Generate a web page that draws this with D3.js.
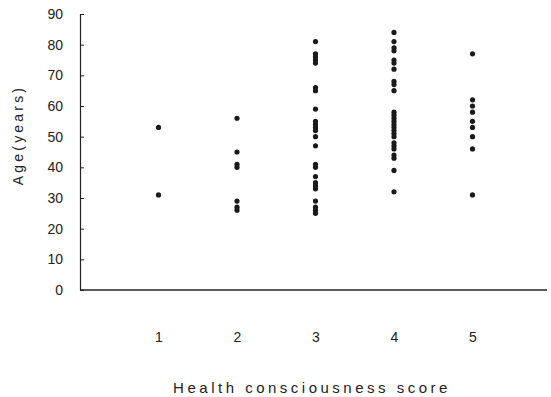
<!DOCTYPE html>
<html>
<head>
<meta charset="utf-8">
<script src="https://cdn.jsdelivr.net/npm/d3@7"></script>
<style>
  body { margin: 0; background: #fff; }
  svg text { font-family: "Liberation Sans", Arial, sans-serif; fill: #222; }
</style>
</head>
<body>
<svg id="chart" width="551" height="397"></svg>
<script>
// health consciousness score -> ages of respondents
let scores = [1, 2, 3, 4, 5];
let ages1 = [53, 31];
let ages2 = [56, 45, 41, 40, 29, 27, 26];
let ages3 = [81, 77, 76, 75, 74, 66, 65, 59, 55, 54, 53, 52, 50, 47, 41, 40, 37, 35, 34, 33, 29, 27, 26, 25];
let ages4 = [84, 81, 79, 78, 75, 74, 72, 68, 67, 65, 58, 57, 56, 55, 54, 53, 52, 51, 50, 48, 47, 46, 44, 43, 39, 32];
let ages5 = [77, 62, 60, 58, 55, 53, 50, 46, 31];
let yTicks = [0, 10, 20, 30, 40, 50, 60, 70, 80, 90];

let svg = d3.select("svg#chart");
let margin = { top: 14, right: 0, bottom: 107, left: 80 };
let svg_width = +svg.attr("width");
let svg_height = +svg.attr("height");

let points = [];
[ages1, ages2, ages3, ages4, ages5].forEach((ages, i) => {
  ages.forEach(a => points.push({ score: scores[i], age: a }));
});

const xScale = d3.scaleLinear().domain([0, 6]).range([margin.left, svg_width - margin.right]);
const yScale = d3.scaleLinear().domain([0, 90]).range([svg_height - margin.bottom, margin.top]);

// X axis
let bottomAxis = d3.axisBottom(xScale).tickValues(scores).tickFormat(d3.format("d"))
  .tickSize(0).tickPadding(42);
let gx = svg.append("g")
  .attr("transform", "translate(0," + yScale(0) + ")")
  .call(bottomAxis);
gx.select(".domain").attr("stroke", "#222").attr("stroke-width", 1.5)
  .attr("d", "M" + xScale(0) + ",0H" + (xScale(6) - 4));
gx.selectAll("text").style("font-size", "14px");

// Y axis
let leftAxis = d3.axisLeft(yScale).tickValues(yTicks).tickSizeInner(-4).tickSizeOuter(0).tickPadding(17);
let gy = svg.append("g")
  .attr("transform", "translate(" + margin.left + ",0)")
  .call(leftAxis);
gy.select(".domain").attr("stroke", "#222").attr("stroke-width", 1.2);
gy.selectAll("line").attr("stroke", "#222");
gy.selectAll("text").style("font-size", "14px");

// points
svg.append("g")
  .selectAll("circle")
  .data(points)
  .join("circle")
  .attr("cx", d => xScale(d.score))
  .attr("cy", d => yScale(d.age))
  .attr("r", 2.6)
  .attr("fill", "#1a1a1a");

// axis titles
svg.append("text")
  .attr("x", 312)
  .attr("y", 393)
  .attr("text-anchor", "middle")
  .style("font-size", "15px")
  .style("letter-spacing", "3.5px")
  .text("Health consciousness score");

svg.append("text")
  .attr("transform", "translate(23,135) rotate(-90)")
  .attr("text-anchor", "middle")
  .style("font-size", "14px")
  .style("letter-spacing", "3.2px")
  .text("Age(years)");
</script>
</body>
</html>
